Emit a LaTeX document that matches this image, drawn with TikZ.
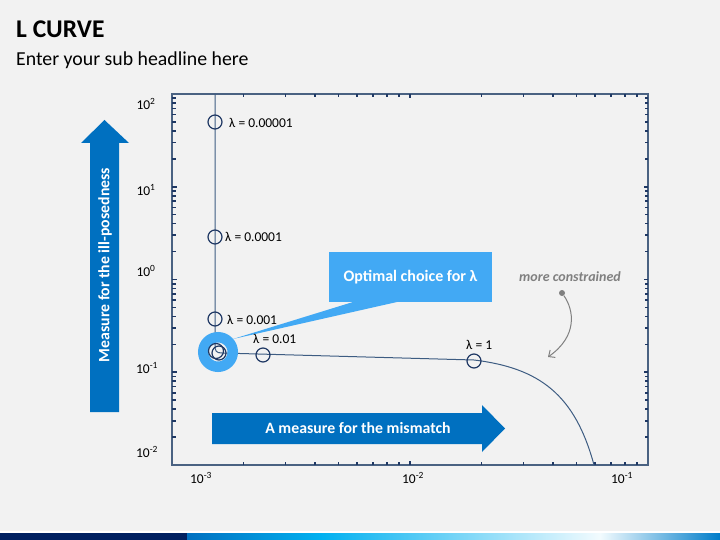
\documentclass[tikz,border=0pt]{standalone}
\usepackage{fontspec}
\setmainfont{Carlito}
\usetikzlibrary{arrows.meta,calc}
\definecolor{bg}{HTML}{F2F2F2}
\definecolor{navy}{HTML}{1F3864}
\definecolor{framec}{HTML}{4A6282}
\definecolor{curvec}{HTML}{3D5C82}
\definecolor{callout}{HTML}{42A9F4}
\definecolor{arrowblue}{HTML}{0070C0}
\definecolor{darknavy}{HTML}{002060}
\definecolor{cyanb}{HTML}{00B0F0}
\definecolor{mgray}{HTML}{808080}
\begin{document}
\begin{tikzpicture}[x=1pt,y=-1pt,
  tick/.style={navy,line width=1.6pt},
  frameline/.style={framec,line width=1.3pt},
  ticklbl/.style={font=\fontsize{13.5}{15}\selectfont,inner sep=0pt},
  lamlbl/.style={font=\fontsize{13.5}{15}\selectfont,inner sep=0pt,anchor=west},
  datapt/.style={circle,draw=navy,line width=1.2pt,minimum size=14pt,inner sep=0pt},
  bigarrow/.style={fill=arrowblue},
  arrowtext/.style={text=white,font=\bfseries\fontsize{15.8}{18}\selectfont,inner sep=0pt}
]
\useasboundingbox (0,0) rectangle (720,540);
\fill[bg] (0,0) rectangle (720,540);

% titles
\node[anchor=west,inner sep=0pt,font=\bfseries\fontsize{25.5}{29}\selectfont] (title) at (16,29) {L CURVE};
\node[anchor=west,inner sep=0pt,font=\fontsize{19.8}{23}\selectfont] (sub) at (16,60) {Enter your sub headline here};

% bottom bar
\fill[white] (0,531) rectangle (720,533);
\fill[darknavy] (0,533) rectangle (187,540);
\shade[left color=arrowblue,right color=cyanb] (187,533) rectangle (320,540);
\shade[left color=cyanb,right color=white!95!cyanb] (320,533) rectangle (600,540);
\shade[left color=white!95!cyanb,right color=arrowblue!80!cyanb] (600,533) rectangle (720,540);

% vertical arrow
\fill[bigarrow] (90,412) -- (119,412) -- (119,143) -- (129,143) -- (104.5,120) -- (81,143) -- (90,143) -- cycle;
\node[arrowtext,rotate=90] (vtxt) at (105,265) {Measure for the ill-posedness};

% frame and ticks
\draw[frameline] (172,94) rectangle (648,465);
\foreach \d in {0,1} {
  \foreach \k in {2,...,9} {
    \pgfmathsetmacro\xx{172+(\d+log10(\k))*238}
    \draw[tick] (\xx,465) -- ++(0,-3.5);
    \draw[tick] (\xx,94) -- ++(0,3.5);
  }
}
\draw[tick] (410,465) -- ++(0,-4.5);
\draw[tick] (410,94) -- ++(0,4.5);
\foreach \d in {0,...,3} {
  \foreach \k in {2,...,9} {
    \pgfmathsetmacro\yy{465-(\d+log10(\k))*92.75}
    \draw[tick] (172,\yy) -- ++(3.5,0);
    \draw[tick] (648,\yy) -- ++(-3.5,0);
  }
}
\foreach \d in {1,2,3} {
  \pgfmathsetmacro\yy{465-\d*92.75}
  \draw[tick] (172,\yy) -- ++(4.5,0);
  \draw[tick] (648,\yy) -- ++(-4.5,0);
}

% tick labels
\node[ticklbl] (y2) at (146,104) {10\textsuperscript{2}};
\node[ticklbl] (y1) at (146,190) {10\textsuperscript{1}};
\node[ticklbl] (y0) at (146,271) {10\textsuperscript{0}};
\node[ticklbl] (ym1) at (147,368) {10\textsuperscript{-1}};
\node[ticklbl] (ym2) at (147,452) {10\textsuperscript{-2}};
\node[ticklbl] (xm3) at (201,478) {10\textsuperscript{-3}};
\node[ticklbl] (xm2) at (413,478) {10\textsuperscript{-2}};
\node[ticklbl] (xm1) at (622,478) {10\textsuperscript{-1}};

% horizontal arrow
\fill[bigarrow] (212,413) -- (482,413) -- (482,405) -- (505,428.5) -- (482,452) -- (482,444) -- (212,444) -- cycle;
\node[arrowtext] (htxt) at (358,428.5) {A measure for the mismatch};

% L-curve
\draw[curvec,line width=1pt] (215,94) -- (215,345) .. controls (215,351) and (216,353) .. (222,353) -- (474,360) .. controls (540,368) and (575,395) .. (594,465);

% optimal ring
\node[circle,draw=callout,line width=10.5pt,minimum size=29.5pt,inner sep=0pt] (opt) at (218,352) {};
\node[datapt,minimum size=15pt] (o1) at (216,351) {};
\node[datapt,minimum size=14pt] (o2) at (219,353) {};

% callout
\fill[callout] ($(opt.center)+(15,-13)$) -- (353,302) -- (397,302) -- cycle;
\node[fill=callout,minimum width=163pt,minimum height=50pt,inner sep=0pt,text=white,font=\bfseries\fontsize{16}{19}\selectfont] (call) at (410.5,277) {Optimal choice for λ};

% data points
\node[datapt] (p1) at (215,122) {};
\node[datapt] (p2) at (215,237) {};
\node[datapt] (p3) at (215,319) {};
\node[datapt] (p4) at (263,355) {};
\node[datapt] (p5) at (474,361) {};
\node[lamlbl] (l1) at (229,123) {λ = 0.00001};
\node[lamlbl] (l2) at (225,237) {λ = 0.0001};
\node[lamlbl] (l3) at (227,320) {λ = 0.001};
\node[lamlbl] (l4) at (253,339) {λ = 0.01};
\node[lamlbl] (l5) at (466,345) {λ = 1};

% more constrained
\node[inner sep=0pt,text=mgray,font=\bfseries\itshape\fontsize{14}{16}\selectfont] (mc) at (570,277) {more constrained};
\node[circle,fill=mgray,inner sep=0pt,minimum size=6pt] (mcdot) at (562,293) {};
\coordinate (mctip) at (548,357);
\draw[mgray,line width=1pt,-{Straight Barb[length=5pt,width=9pt]}] (mcdot) .. controls (574,310) and (578,336) .. (mctip);
\end{tikzpicture}
\end{document}
